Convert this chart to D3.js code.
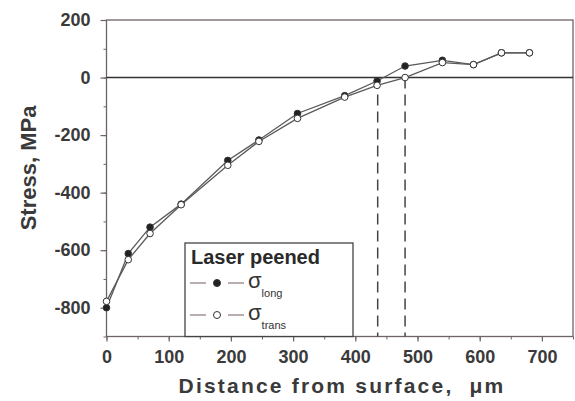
<!DOCTYPE html>
<html>
<head>
<meta charset="utf-8">
<script src="https://cdn.jsdelivr.net/npm/d3@7"></script>
<style>
  body { margin: 0; background: #fff; }
  text { font-family: "Liberation Sans", Arial, sans-serif; }
</style>
</head>
<body>
<svg id="chart"></svg>
<script>
// depth below surface (um) and residual stress (MPa)
var depth = [0, 35, 70, 120, 195, 245, 307, 383, 435, 480, 540, 590, 635, 680];
var sigmaLong = [-800, -612, -520, -440, -288, -217, -125, -63, -12, 40, 60, 45, 86, 86];
var sigmaTrans = [-778, -633, -542, -442, -305, -222, -142, -68, -27, 0, 52, 45, 86, 86];
var crossings = [436, 480];
var xTicks = [0, 100, 200, 300, 400, 500, 600, 700];
var yTicks = [-800, -600, -400, -200, 0, 200];

var width = 575, height = 401;
var plotLeft = 106.5, plotRight = 573, plotTop = 20, plotBottom = 336.5;

var svg = d3.select("#chart").attr("width", width).attr("height", height);

var x = d3.scaleLinear().domain([0, 750]).range([plotLeft, plotRight]);
var y = d3.scaleLinear().domain([-900, 200]).range([plotBottom, plotTop]);

var axisColor = "#6e6468";
var labelColor = "#3a3a3a";

// frame
svg.append("rect")
    .attr("x", plotLeft).attr("y", plotTop)
    .attr("width", plotRight - plotLeft).attr("height", plotBottom - plotTop)
    .attr("fill", "none").attr("stroke", axisColor).attr("stroke-width", 1.3);

// minor ticks
svg.append("g").attr("transform", "translate(" + plotLeft + ",0)")
    .call(d3.axisLeft(y).tickValues(d3.range(-900, 201, 100)).tickSize(3).tickFormat(""))
    .call(g => g.select(".domain").remove())
    .call(g => g.selectAll("line").attr("stroke", axisColor));
svg.append("g").attr("transform", "translate(0," + plotBottom + ")")
    .call(d3.axisBottom(x).tickValues(d3.range(0, 751, 50)).tickSize(3).tickFormat(""))
    .call(g => g.select(".domain").remove())
    .call(g => g.selectAll("line").attr("stroke", axisColor));

// major ticks (plain hyphen for negatives, like the original)
var yAxis = svg.append("g").attr("transform", "translate(" + plotLeft + ",0)")
    .call(d3.axisLeft(y).tickValues(yTicks).tickSize(6).tickPadding(10).tickFormat(d => String(d)));
var xAxis = svg.append("g").attr("transform", "translate(0," + plotBottom + ")")
    .call(d3.axisBottom(x).tickValues(xTicks).tickSize(5).tickPadding(9).tickFormat(d => String(d)));
[yAxis, xAxis].forEach(function (g) {
    g.select(".domain").remove();
    g.selectAll("line").attr("stroke", axisColor).attr("stroke-width", 1.2);
    g.selectAll("text")
        .attr("font-size", 18).attr("font-weight", "bold")
        .attr("fill", labelColor)
        .style("font-family", "'Liberation Sans', Arial, sans-serif");
});

// zero line
svg.append("line")
    .attr("x1", plotLeft).attr("x2", plotRight)
    .attr("y1", y(0)).attr("y2", y(0))
    .attr("stroke", "#333").attr("stroke-width", 1.6);

// dashed crossing markers
svg.selectAll(".cross")
    .data(crossings)
    .enter().append("line")
    .attr("x1", d => x(d)).attr("x2", d => x(d))
    .attr("y1", y(0)).attr("y2", plotBottom)
    .attr("stroke", "#444").attr("stroke-width", 1.5)
    .attr("stroke-dasharray", "11,6");

var line = d3.line().x(d => x(d[0])).y(d => y(d[1]));
var longPts = depth.map((d, i) => [d, sigmaLong[i]]);
var transPts = depth.map((d, i) => [d, sigmaTrans[i]]);

function drawSeries(pts, filled) {
    svg.append("path")
        .datum(pts)
        .attr("d", line)
        .attr("fill", "none")
        .attr("stroke", "#5a5a5a")
        .attr("stroke-width", 1.3);
    svg.selectAll(null)
        .data(pts)
        .enter().append("circle")
        .attr("cx", d => x(d[0])).attr("cy", d => y(d[1]))
        .attr("r", 3.3)
        .attr("fill", filled ? "#222" : "#fff")
        .attr("stroke", "#333").attr("stroke-width", 1);
}
drawSeries(longPts, true);
drawSeries(transPts, false);

// axis titles
svg.append("text")
    .attr("transform", "translate(36,168) rotate(-90)")
    .attr("text-anchor", "middle")
    .attr("font-size", 22).attr("font-weight", "bold")
    .attr("fill", labelColor)
    .text("Stress, MPa");

svg.append("text")
    .attr("x", 342).attr("y", 393)
    .attr("text-anchor", "middle")
    .attr("font-size", 21).attr("font-weight", "bold")
    .attr("letter-spacing", 2.2)
    .attr("fill", labelColor)
    .text("Distance from surface,\u00a0\u00a0\u03bcm");

// legend
var lx = 185, ly = 243;
svg.append("rect")
    .attr("x", lx).attr("y", ly)
    .attr("width", 353 - lx).attr("height", plotBottom - ly)
    .attr("fill", "#fff").attr("stroke", "#444").attr("stroke-width", 1.3);
svg.append("text")
    .attr("x", lx + 6).attr("y", ly + 21)
    .attr("font-size", 20).attr("font-weight", "bold")
    .attr("fill", "#2a2a2a")
    .text("Laser peened");

var legendRows = [
    { sub: "long", filled: true, y: 283 },
    { sub: "trans", filled: false, y: 315 }
];
legendRows.forEach(function (r) {
    svg.append("line").attr("x1", 190).attr("x2", 206).attr("y1", r.y).attr("y2", r.y)
        .attr("stroke", "#9a8a8e").attr("stroke-width", 1.4);
    svg.append("line").attr("x1", 228).attr("x2", 244).attr("y1", r.y).attr("y2", r.y)
        .attr("stroke", "#9a8a8e").attr("stroke-width", 1.4);
    svg.append("circle").attr("cx", 217).attr("cy", r.y).attr("r", 3.5)
        .attr("fill", r.filled ? "#222" : "#fff").attr("stroke", "#333");
    var t = svg.append("text").attr("x", 248).attr("y", r.y + 5)
        .attr("fill", "#333");
    t.append("tspan").attr("font-size", 22).text("\u03c3");
    t.append("tspan").attr("font-size", 11).attr("dy", 9).text(r.sub);
});
</script>
</body>
</html>
